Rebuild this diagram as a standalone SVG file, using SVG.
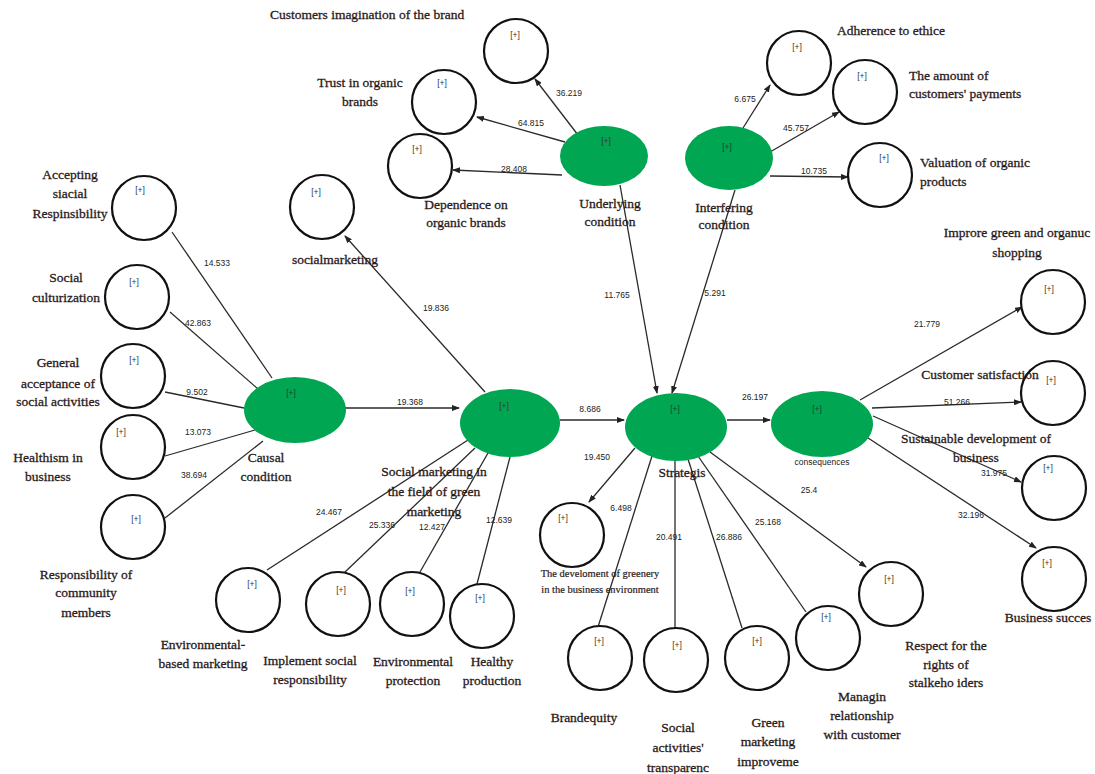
<svg xmlns="http://www.w3.org/2000/svg" width="1095" height="774" viewBox="0 0 1095 774">
<defs>
<marker id="ah" markerUnits="userSpaceOnUse" markerWidth="8" markerHeight="6" refX="7" refY="3" orient="auto">
<path d="M0,0 L8,3 L0,6 z" fill="#222"/>
</marker>
<style>
.ind{fill:#fff;stroke:#111;stroke-width:2.2}
.lat{fill:#00a651;stroke:none}
.pl{font-family:"Liberation Sans",Arial,sans-serif;font-size:8.5px;fill:#333;text-anchor:middle}
.lb{font-family:"Liberation Serif","Times New Roman",serif;font-size:13.5px;fill:#2a1a1a;stroke:#2a1a1a;stroke-width:0.3;text-anchor:middle}
.lbl{font-family:"Liberation Serif","Times New Roman",serif;font-size:13.5px;fill:#2a1a1a;stroke:#2a1a1a;stroke-width:0.3;text-anchor:start}
.sm{font-family:"Liberation Serif","Times New Roman",serif;font-size:10.5px;fill:#2a1a1a;stroke:#2a1a1a;stroke-width:0.2;text-anchor:middle}
.num{font-family:"Liberation Sans",Arial,sans-serif;font-size:8.5px;fill:#222;text-anchor:middle}
.cn line{stroke:#2a2a2a;stroke-width:1.3;fill:none}
.ar{marker-end:url(#ah)}
</style>
</defs>
<rect width="1095" height="774" fill="#fff"/>

<g id="connectors" class="cn">
<line class="ar" x1="578" y1="135" x2="535" y2="79"/>
<line class="ar" x1="565" y1="142" x2="477" y2="117"/>
<line class="ar" x1="562" y1="175" x2="453" y2="170"/>
<line class="ar" x1="620" y1="185" x2="657" y2="393"/>
<line class="ar" x1="743" y1="128" x2="770" y2="85"/>
<line class="ar" x1="770" y1="152" x2="839" y2="112"/>
<line class="ar" x1="770" y1="176" x2="848" y2="177"/>
<line class="ar" x1="735" y1="190" x2="672" y2="393"/>
<line x1="272" y1="378" x2="172" y2="232"/>
<line x1="258" y1="389" x2="170" y2="312"/>
<line x1="244" y1="408" x2="165" y2="392"/>
<line x1="255" y1="430" x2="165" y2="456"/>
<line x1="263" y1="441" x2="165" y2="518"/>
<line class="ar" x1="345" y1="408" x2="459" y2="408"/>
<line class="ar" x1="485" y1="392" x2="345" y2="236"/>
<line class="ar" x1="560" y1="420" x2="624" y2="420"/>
<line x1="468" y1="440" x2="267" y2="570"/>
<line x1="475" y1="448" x2="345" y2="572"/>
<line x1="488" y1="453" x2="420" y2="572"/>
<line x1="510" y1="457" x2="477" y2="584"/>
<line class="ar" x1="727" y1="420" x2="770" y2="420"/>
<line class="ar" x1="635" y1="448" x2="589" y2="502"/>
<line x1="652" y1="456" x2="598" y2="627"/>
<line x1="675" y1="460" x2="675" y2="628"/>
<line x1="688" y1="459" x2="742" y2="628"/>
<line x1="698" y1="456" x2="806" y2="612"/>
<line class="ar" x1="710" y1="452" x2="866" y2="567"/>
<line class="ar" x1="860" y1="400" x2="1022" y2="307"/>
<line class="ar" x1="872" y1="408" x2="1021" y2="402"/>
<line class="ar" x1="873" y1="416" x2="1021" y2="482"/>
<line class="ar" x1="865" y1="436" x2="1036" y2="548"/>
</g>

<g id="underlying">
<ellipse class="lat" cx="604" cy="156" rx="44" ry="30"/>
<text class="pl" x="606" y="144">[+]</text>
<text class="lb" x="610" y="208">Underlying</text>
<text class="lb" x="610" y="226">condition</text>
</g>
<g id="interfering">
<ellipse class="lat" cx="729" cy="158" rx="44" ry="32"/>
<text class="pl" x="727" y="150">[+]</text>
<text class="lb" x="724" y="212">Interfering</text>
<text class="lb" x="724" y="229">condition</text>
</g>
<g id="causal">
<ellipse class="lat" cx="295" cy="410" rx="51" ry="33"/>
<text class="pl" x="291" y="396">[+]</text>
<text class="lb" x="266" y="462">Causal</text>
<text class="lb" x="266" y="481">condition</text>
</g>
<g id="socialfield">
<ellipse class="lat" cx="510" cy="423" rx="50" ry="34"/>
<text class="pl" x="504" y="409">[+]</text>
<text class="lb" x="434" y="476">Social marketing in</text>
<text class="lb" x="434" y="496">the field of green</text>
<text class="lb" x="434" y="516">marketing</text>
</g>
<g id="strategies">
<ellipse class="lat" cx="676" cy="427" rx="51" ry="34"/>
<text class="pl" x="675" y="412">[+]</text>
<text class="lb" x="682" y="477">Strategis</text>
</g>
<g id="consequences">
<ellipse class="lat" cx="822" cy="424" rx="51" ry="33"/>
<text class="pl" x="817" y="412">[+]</text>
<text class="num" x="822" y="465">consequences</text>
</g>

<g id="customers-imagination">
<circle class="ind" cx="516" cy="51" r="32"/>
<text class="pl" x="515" y="38">[+]</text>
<text class="lbl" x="270" y="19">Customers imagination of the brand</text>
</g>
<g id="trust">
<circle class="ind" cx="444" cy="102" r="32"/>
<text class="pl" x="442" y="86">[+]</text>
<text class="lb" x="360" y="87">Trust in organic</text>
<text class="lb" x="360" y="106">brands</text>
</g>
<g id="dependence">
<circle class="ind" cx="420" cy="166" r="32"/>
<text class="pl" x="417" y="152">[+]</text>
<text class="lb" x="466" y="209">Dependence on</text>
<text class="lb" x="466" y="227">organic brands</text>
</g>
<g id="adherence">
<circle class="ind" cx="799" cy="63" r="32"/>
<text class="pl" x="797" y="50">[+]</text>
<text class="lbl" x="837" y="35">Adherence to ethice</text>
</g>
<g id="amount">
<circle class="ind" cx="865" cy="92" r="32"/>
<text class="pl" x="862" y="79">[+]</text>
<text class="lbl" x="909" y="80">The amount of</text>
<text class="lbl" x="909" y="98">customers' payments</text>
</g>
<g id="valuation">
<circle class="ind" cx="880" cy="175" r="32"/>
<text class="pl" x="884" y="161">[+]</text>
<text class="lbl" x="920" y="167">Valuation of organic</text>
<text class="lbl" x="920" y="186">products</text>
</g>
<g id="socialmarketing">
<circle class="ind" cx="322" cy="207" r="32"/>
<text class="pl" x="316" y="195">[+]</text>
<text class="lb" x="335" y="264">socialmarketing</text>
</g>
<g id="accepting">
<circle class="ind" cx="144" cy="208" r="32"/>
<text class="pl" x="140" y="193">[+]</text>
<text class="lb" x="70" y="179">Accepting</text>
<text class="lb" x="70" y="198">siacial</text>
<text class="lb" x="70" y="218">Respinsibility</text>
</g>
<g id="culturization">
<circle class="ind" cx="137" cy="297" r="32"/>
<text class="pl" x="134" y="285">[+]</text>
<text class="lb" x="66" y="282">Social</text>
<text class="lb" x="66" y="302">culturization</text>
</g>
<g id="general">
<circle class="ind" cx="133" cy="376" r="32"/>
<text class="pl" x="134" y="363">[+]</text>
<text class="lb" x="58" y="367">General</text>
<text class="lb" x="58" y="388">acceptance of</text>
<text class="lb" x="58" y="406">social activities</text>
</g>
<g id="healthism">
<circle class="ind" cx="133" cy="447" r="32"/>
<text class="pl" x="121" y="435">[+]</text>
<text class="lb" x="48" y="462">Healthism in</text>
<text class="lb" x="48" y="481">business</text>
</g>
<g id="responsibility">
<circle class="ind" cx="133" cy="527" r="32"/>
<text class="pl" x="136" y="522">[+]</text>
<text class="lb" x="86" y="579">Responsibility of</text>
<text class="lb" x="86" y="597">community</text>
<text class="lb" x="86" y="617">members</text>
</g>
<g id="env-based">
<circle class="ind" cx="248" cy="600" r="32"/>
<text class="pl" x="252" y="587">[+]</text>
<text class="lb" x="203" y="649">Environmental-</text>
<text class="lb" x="203" y="668">based marketing</text>
</g>
<g id="implement">
<circle class="ind" cx="338" cy="604" r="32"/>
<text class="pl" x="341" y="593">[+]</text>
<text class="lb" x="310" y="665">Implement social</text>
<text class="lb" x="310" y="684">responsibility</text>
</g>
<g id="env-protection">
<circle class="ind" cx="412" cy="604" r="32"/>
<text class="pl" x="410" y="594">[+]</text>
<text class="lb" x="413" y="666">Environmental</text>
<text class="lb" x="413" y="685">protection</text>
</g>
<g id="healthy">
<circle class="ind" cx="482" cy="616" r="32"/>
<text class="pl" x="480" y="601">[+]</text>
<text class="lb" x="492" y="666">Healthy</text>
<text class="lb" x="492" y="685">production</text>
</g>
<g id="greenery">
<circle class="ind" cx="572" cy="535" r="32"/>
<text class="pl" x="563" y="521">[+]</text>
<text class="sm" x="600" y="577">The develoment of greenery</text>
<text class="sm" x="600" y="593">in the business environment</text>
</g>
<g id="brandequity">
<circle class="ind" cx="600" cy="658" r="32"/>
<text class="pl" x="599" y="644">[+]</text>
<text class="lb" x="584" y="722">Brandequity</text>
</g>
<g id="transparency">
<circle class="ind" cx="676" cy="660" r="32"/>
<text class="pl" x="677" y="648">[+]</text>
<text class="lb" x="678" y="732">Social</text>
<text class="lb" x="678" y="752">activities'</text>
<text class="lb" x="678" y="772">transparenc</text>
</g>
<g id="green-improve">
<circle class="ind" cx="757" cy="658" r="32"/>
<text class="pl" x="757" y="644">[+]</text>
<text class="lb" x="768" y="727">Green</text>
<text class="lb" x="768" y="746">marketing</text>
<text class="lb" x="768" y="766">improveme</text>
</g>
<g id="managin">
<circle class="ind" cx="828" cy="638" r="32"/>
<text class="pl" x="826" y="620">[+]</text>
<text class="lb" x="862" y="701">Managin</text>
<text class="lb" x="862" y="720">relationship</text>
<text class="lb" x="862" y="739">with customer</text>
</g>
<g id="respect">
<circle class="ind" cx="891" cy="594" r="32"/>
<text class="pl" x="889" y="582">[+]</text>
<text class="lb" x="946" y="650">Respect for the</text>
<text class="lb" x="946" y="669">rights of</text>
<text class="lb" x="946" y="687">stalkeho iders</text>
</g>
<g id="improve-shopping">
<circle class="ind" cx="1053" cy="302" r="32"/>
<text class="pl" x="1049" y="292">[+]</text>
<text class="lb" x="1017" y="237">Improre green and organuc</text>
<text class="lb" x="1017" y="257">shopping</text>
</g>
<g id="satisfaction">
<circle class="ind" cx="1053" cy="393" r="32"/>
<text class="pl" x="1051" y="383">[+]</text>
<text class="lb" x="980" y="379">Customer satisfaction</text>
</g>
<g id="sustainable">
<circle class="ind" cx="1054" cy="488" r="32"/>
<text class="pl" x="1048" y="471">[+]</text>
<text class="lb" x="976" y="443">Sustainable development of</text>
<text class="lb" x="976" y="462">business</text>
</g>
<g id="business-succes">
<circle class="ind" cx="1054" cy="579" r="32"/>
<text class="pl" x="1047" y="566">[+]</text>
<text class="lb" x="1048" y="622">Business succes</text>
</g>

<g id="path-coefficients">
<text class="num" x="569" y="96">36.219</text>
<text class="num" x="531" y="126">64.815</text>
<text class="num" x="514" y="172">28.408</text>
<text class="num" x="745" y="102">6.675</text>
<text class="num" x="796" y="131">45.757</text>
<text class="num" x="814" y="174">10.735</text>
<text class="num" x="617" y="298">11.765</text>
<text class="num" x="715" y="296">5.291</text>
<text class="num" x="436" y="311">19.836</text>
<text class="num" x="410" y="405">19.368</text>
<text class="num" x="590" y="412">8.686</text>
<text class="num" x="755" y="400">26.197</text>
<text class="num" x="597" y="460">19.450</text>
<text class="num" x="217" y="266">14.533</text>
<text class="num" x="198" y="326">42.863</text>
<text class="num" x="197" y="395">9.502</text>
<text class="num" x="198" y="435">13.073</text>
<text class="num" x="194" y="478">38.694</text>
<text class="num" x="329" y="515">24.467</text>
<text class="num" x="382" y="528">25.336</text>
<text class="num" x="432" y="530">12.427</text>
<text class="num" x="499" y="523">12.639</text>
<text class="num" x="621" y="511">6.498</text>
<text class="num" x="669" y="540">20.491</text>
<text class="num" x="729" y="540">26.886</text>
<text class="num" x="768" y="525">25.168</text>
<text class="num" x="809" y="493">25.4</text>
<text class="num" x="971" y="518">32.196</text>
<text class="num" x="994" y="476">31.975</text>
<text class="num" x="927" y="327">21.779</text>
<text class="num" x="957" y="405">51.266</text>
</g>
</svg>
